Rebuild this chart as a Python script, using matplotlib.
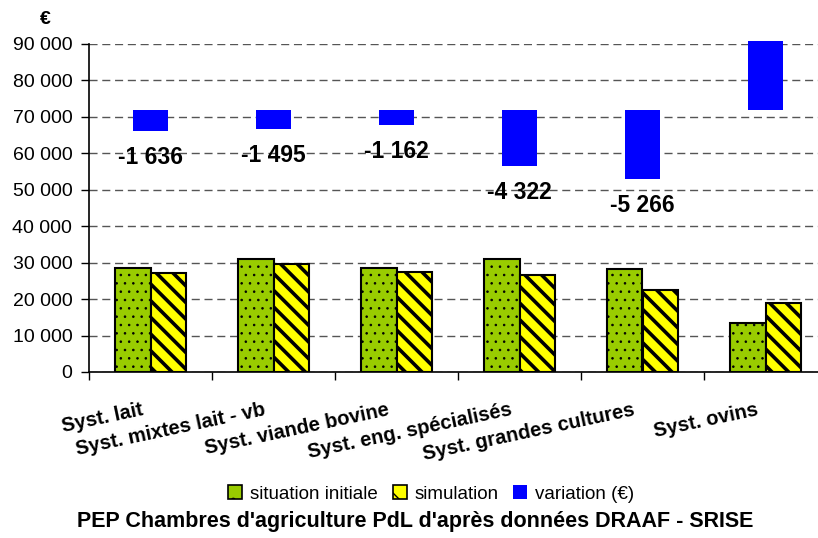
import numpy as np
import matplotlib
matplotlib.use("Agg")
import matplotlib.pyplot as plt
from matplotlib.patches import Patch
from matplotlib.ticker import FuncFormatter

plt.rcParams['font.family'] = ['Liberation Sans', 'DejaVu Sans']
plt.rcParams['hatch.color'] = 'black'

# Revenu moyen par système (€)
systemes = ['Syst. lait', 'Syst. mixtes lait - vb', 'Syst. viande bovine',
            'Syst. eng. spécialisés', 'Syst. grandes cultures', 'Syst. ovins']
situation_initiale = [28600, 31100, 28600, 31000, 28200, 13400]
simulation = [27100, 29600, 27500, 26500, 22500, 18900]
variation = [-1636, -1495, -1162, -4322, -5266, 5200]

VERT = '#99CC00'
JAUNE = '#FFFF00'
BLEU = '#0000FF'


def fmt_milliers(v, pos=None):
    return f"{int(round(v)):,}".replace(",", " ")


fig = plt.figure(figsize=(8.18, 5.38), dpi=100)
ax = fig.add_axes([89 / 818, 1 - 372 / 538, 738 / 818, 328 / 538])

x = np.arange(len(systemes))
w = 0.29

with plt.rc_context({'hatch.linewidth': 0.6}):
    ax.bar(x - w / 2, situation_initiale, w, color=VERT, edgecolor='black',
           linewidth=1.5, hatch='..', zorder=3)
with plt.rc_context({'hatch.linewidth': 2.6}):
    ax.bar(x + w / 2, simulation, w, color=JAUNE, edgecolor='black',
           linewidth=1.5, hatch='\\\\', zorder=3)

ax.set_xlim(-0.5, len(systemes) - 0.5)
ax.set_ylim(0, 90000)
ax.set_yticks(np.arange(0, 90001, 10000))
ax.yaxis.set_major_formatter(FuncFormatter(fmt_milliers))
ax.set_xticks(np.arange(-0.5, len(systemes), 1))
ax.set_xticklabels([])
ax.tick_params(axis='y', direction='out', length=6, width=1, labelsize=14, pad=6)
ax.tick_params(axis='x', direction='out', length=6, width=1)
ax.yaxis.grid(True, linestyle=(0, (5.8, 3.4)), color='#555555', linewidth=1.0)
ax.set_axisbelow(True)
for s in ['top', 'right']:
    ax.spines[s].set_visible(False)
for s in ['left', 'bottom']:
    ax.spines[s].set_linewidth(1.2)

# libellés des systèmes, inclinés
for i, nom in enumerate(systemes):
    ax.text(i - 0.08, -7700, nom, rotation=12, rotation_mode='anchor',
            ha='right', va='top', fontsize=14.5, fontweight='bold', clip_on=False)

# axe secondaire pour la variation
ax2 = ax.twinx()
ax2.set_ylim(-20000, 5000)
ax2.axis('off')
ax2.bar(x, variation, w, color=BLEU, clip_on=False, zorder=3)
for i, v in enumerate(variation):
    if v < 0:
        ax2.annotate(fmt_milliers(v), (i, v), xytext=(0, -19), textcoords='offset points',
                     ha='center', va='center', fontsize=16.5, fontweight='bold')

fig.text(45 / 818, 1 - 20 / 538, '€', fontsize=14, fontweight='bold', ha='center', va='center')

handles = [
    Patch(facecolor=VERT, edgecolor='black', hatch='.', linewidth=1.2),
    Patch(facecolor=JAUNE, edgecolor='black', hatch='\\', linewidth=1.2),
    Patch(facecolor=BLEU, edgecolor='none'),
]
fig.legend(handles, ['situation initiale', 'simulation', 'variation (€)'],
           loc='center', bbox_to_anchor=(0.527, 0.082), ncol=3, frameon=False,
           fontsize=13.5, handlelength=0.75, handleheight=0.75, handletextpad=0.4,
           columnspacing=0.8)

fig.text(0.508, 0.030, "PEP Chambres d'agriculture PdL d'après données DRAAF - SRISE",
         fontsize=15.5, fontweight='bold', ha='center', va='center')

fig.savefig('out.png', dpi=100)
